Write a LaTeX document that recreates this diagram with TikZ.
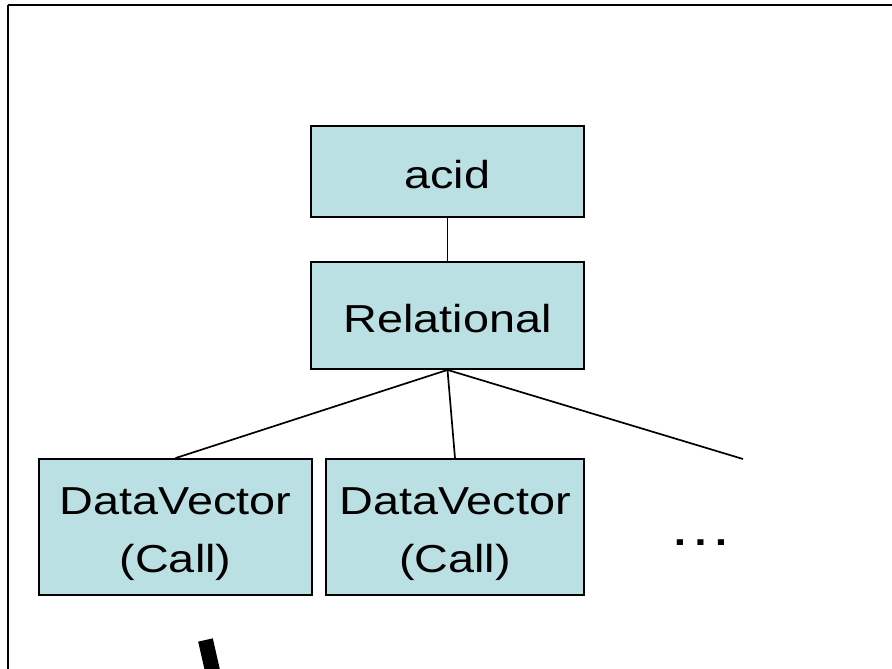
\documentclass[tikz,border=0pt]{standalone}
\usepackage{fontspec}
\setmainfont{Liberation Sans}[FakeStretch=1.2]
\usepackage{tikz}

\definecolor{boxblue}{RGB}{187,224,227}
\tikzset{
  box/.style={draw=black, fill=boxblue, line width=1.8pt, inner sep=0pt,
    minimum width=273pt},
  txt/.style={inner sep=0pt, align=center, font=\fontsize{39}{58}\selectfont},
  link/.style={line width=1.7pt},
}

\begin{document}
\begin{tikzpicture}[x=1pt,y=-1pt]
\clip (0,0) rectangle (892,669);
\fill[white] (0,0) rectangle (892,669);

% frame
\draw[line width=2pt] (8.3,5.3) -- (892,5.3);
\draw[line width=2pt] (8.3,5.3) -- (8.3,669);

\node[box, minimum height=91pt,
  label={[txt, yshift=-3.5pt]center:acid}] (0) at (447.5,171.5) {};
\node[box, minimum height=107pt,
  label={[txt, yshift=-3.5pt]center:Relational}] (1) at (447.5,315.5) {};
\node[box, minimum height=136pt,
  label={[txt, yshift=-7pt]center:DataVector\\(Call)}] (2) at (175.5,527) {};
\node[box, minimum height=136pt, minimum width=258pt,
  label={[txt, yshift=-7pt]center:DataVector\\(Call)}] (3) at (455,527) {};
\coordinate (4) at (743,459);
\node[anchor=base, inner sep=0pt, font=\fontsize{54}{60}\selectfont] (5) at (701,545) {…};

\draw[link] (0) -- (1);
\draw[link] (1.south) -- (2.north);
\draw[link] (1.south) -- (3.north);
\draw[link] (1.south) -- (4);

% cut off curve
\draw[line width=15pt] (205.5,640) -- (213,673);

\end{tikzpicture}
\end{document}
